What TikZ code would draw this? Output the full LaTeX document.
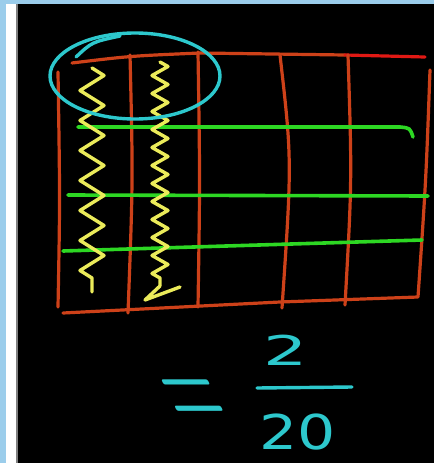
\documentclass[tikz,border=0pt]{standalone}
\usepackage{fontspec}
\setsansfont{DejaVu Sans}
\usetikzlibrary{positioning, decorations.pathmorphing}

\definecolor{boardframe}{RGB}{155,205,235}
\definecolor{chalkred}{RGB}{205,65,25}
\definecolor{chalkbright}{RGB}{225,25,20}
\definecolor{chalkgreen}{RGB}{45,215,35}
\definecolor{chalkyellow}{RGB}{235,235,90}
\definecolor{chalkcyan}{RGB}{45,200,205}

\begin{document}
\begin{tikzpicture}[
    x=1pt, y=-1pt,
    node distance=48pt,
    gridline/.style={draw=chalkred, line width=3.2pt, line cap=round, line join=round},
    rowline/.style={draw=chalkgreen, line width=3.6pt, line cap=round},
    squiggle/.style={draw=chalkyellow, line width=3.4pt, line cap=round, line join=round},
    ring/.style={draw=chalkcyan, line width=3.4pt, line cap=round},
    chalktext/.style={text=chalkcyan, font=\sffamily, inner sep=0pt}
]

% board and window frame
\fill[black] (0,0) rectangle (434,463);
\fill[boardframe] (0,0) rectangle (434,4);
\fill[boardframe] (0,0) rectangle (6,463);
\fill[white] (6,4) rectangle (16,463);
\fill[gray] (16,4) rectangle (17.5,463);
\useasboundingbox (0,0) rectangle (434,463);

% the grid
\draw[gridline] (72,63) .. controls (130,56) .. (200,53) -- (345,55);
\draw[gridline, draw=chalkbright] (345,55) -- (425,57);
\draw[gridline] (430,70) .. controls (426,180) .. (418,297) -- (280,302) -- (63,313);
\draw[gridline] (58,72) .. controls (60,200) .. (58,307);
\draw[gridline] (130,55) .. controls (133,180) .. (128,313);
\draw[gridline] (198,52) .. controls (200,180) .. (198,307);
\draw[gridline] (280,55) .. controls (292,160) .. (282,308);
\draw[gridline] (348,55) .. controls (352,180) .. (345,305);

\draw[rowline] (78,127) -- (400,127) .. controls (410,128) .. (413,137);
\draw[rowline] (68,195) -- (428,196);
\draw[rowline] (63,251) -- (422,240);

% shaded columns
\draw[squiggle, decorate, decoration={zigzag, segment length=30pt, amplitude=12pt}] (92,68) -- (92,292);
\draw[squiggle, decorate, decoration={zigzag, segment length=18pt, amplitude=8pt}] (160,62) -- (160,286);
\draw[squiggle] (160,286) -- (145,300) -- (180,287);

% the circled part
\draw[ring] (135,76) ellipse [x radius=85, y radius=43];
\draw[ring] (76,57) .. controls (92,42) .. (120,36);

% the fraction
\node[chalktext, font=\rmfamily\fontsize{74}{74}\selectfont, transform shape, yscale=2, xslant=-1] (eq) at (198,406) {=};
\node[chalktext, font=\sffamily\fontsize{41}{41}\selectfont, transform shape, xscale=1.7] (num) at (286,350) {2};
\node[chalktext, font=\sffamily\fontsize{48}{48}\selectfont, transform shape, xscale=1.25, below=of num, xshift=9pt] (den) {20};
\draw[ring] (257,388) -- (352,387);

\end{tikzpicture}
\end{document}
